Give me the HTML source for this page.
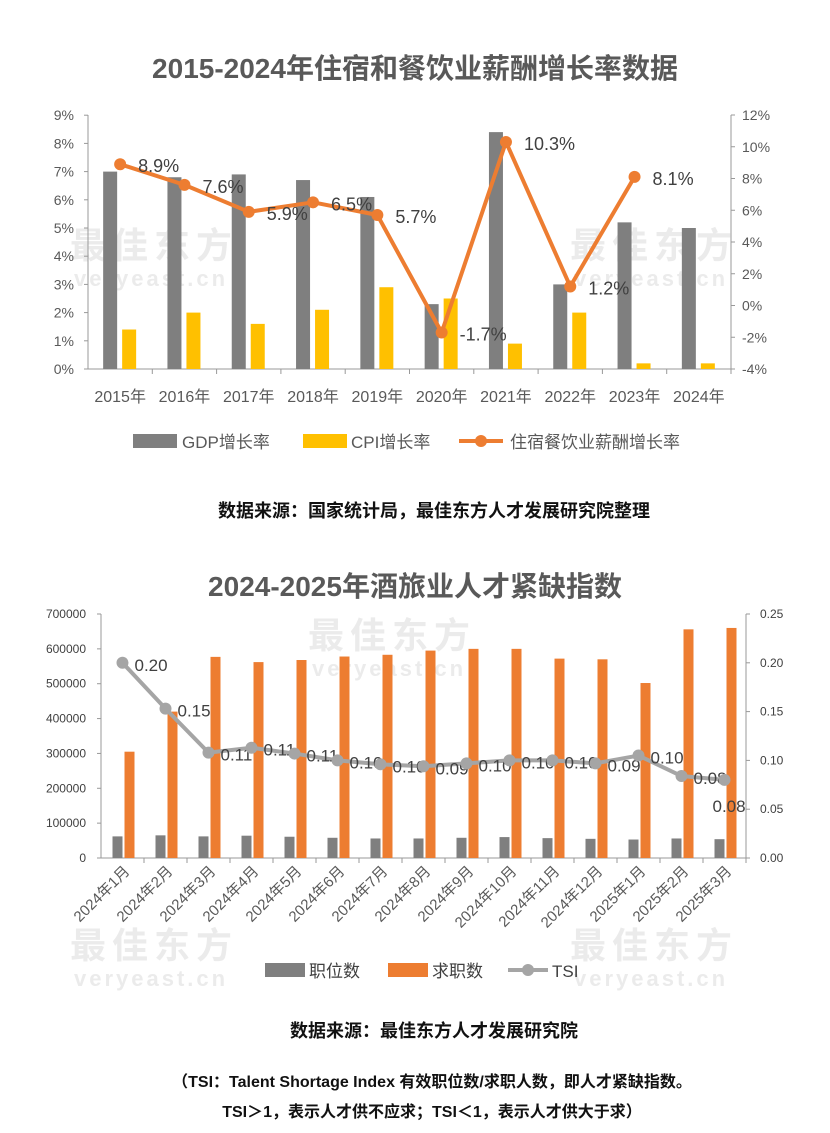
<!DOCTYPE html>
<html><head><meta charset="utf-8">
<style>
body{margin:0;background:#fff;width:830px;height:1133px;overflow:hidden;font-family:"Liberation Sans","Noto Sans CJK SC",sans-serif;}
svg{position:absolute;left:0;top:0}
</style></head>
<body>
<svg id="s" width="830" height="1133" xmlns="http://www.w3.org/2000/svg">
<text x="415" y="78" text-anchor="middle" font-size="28" font-weight="bold" fill="#595959" font-family="Liberation Sans,Noto Sans CJK SC,sans-serif">2015-2024年住宿和餐饮业薪酬增长率数据</text>
<text x="434" y="517" text-anchor="middle" font-size="18" font-weight="bold" fill="#111" font-family="Liberation Sans,Noto Sans CJK SC,sans-serif">数据来源：国家统计局，最佳东方人才发展研究院整理</text>
<text x="415" y="596" text-anchor="middle" font-size="28" font-weight="bold" fill="#595959" font-family="Liberation Sans,Noto Sans CJK SC,sans-serif">2024-2025年酒旅业人才紧缺指数</text>
<text x="434" y="1037" text-anchor="middle" font-size="18" font-weight="bold" fill="#111" font-family="Liberation Sans,Noto Sans CJK SC,sans-serif">数据来源：最佳东方人才发展研究院</text>
<text x="432" y="1087" text-anchor="middle" font-size="16" font-weight="bold" fill="#111" font-family="Liberation Sans,Noto Sans CJK SC,sans-serif">（TSI：Talent Shortage Index 有效职位数/求职人数，即人才紧缺指数。</text>
<text x="432" y="1117" text-anchor="middle" font-size="16" font-weight="bold" fill="#111" font-family="Liberation Sans,Noto Sans CJK SC,sans-serif">TSI＞1，表示人才供不应求；TSI＜1，表示人才供大于求）</text>
</svg>
<script>
const years=["2015年","2016年","2017年","2018年","2019年","2020年","2021年","2022年","2023年","2024年"];
const gdp=[7.0,6.8,6.9,6.7,6.1,2.3,8.4,3.0,5.2,5.0];
const cpi=[1.4,2.0,1.6,2.1,2.9,2.5,0.9,2.0,0.2,0.2];
const wage=[8.9,7.6,5.9,6.5,5.7,-1.7,10.3,1.2,8.1];
const leftTicks=["0%","1%","2%","3%","4%","5%","6%","7%","8%","9%"];
const rightTicks=["-4%","-2%","0%","2%","4%","6%","8%","10%","12%"];
const months=["2024年1月","2024年2月","2024年3月","2024年4月","2024年5月","2024年6月","2024年7月","2024年8月","2024年9月","2024年10月","2024年11月","2024年12月","2025年1月","2025年2月","2025年3月"];
const jobs=[62000,65000,62000,64000,61000,58000,56000,56000,58000,60000,57000,55000,53000,56000,54000];
const seekers=[305000,420000,577000,562000,568000,578000,583000,595000,600000,600000,572000,570000,502000,656000,660000];
const tsi=[0.20,0.153,0.108,0.113,0.107,0.100,0.096,0.094,0.097,0.100,0.100,0.097,0.105,0.084,0.080];
const tsiLabels=["0.20","0.15","0.11","0.11","0.11","0.10","0.10","0.09","0.10","0.10","0.10","0.09","0.10","0.08","0.08"];
const bLeftTicks=[0,100000,200000,300000,400000,500000,600000,700000];
const bRightTicks=["0.00","0.05","0.10","0.15","0.20","0.25"];

const s=document.getElementById('s');const NS='http://www.w3.org/2000/svg';
const F='Liberation Sans,Noto Sans CJK SC,sans-serif';
function mk(t,a,txt){const e=document.createElementNS(NS,t);for(const k in a)e.setAttribute(k,a[k]);if(txt!=null)e.textContent=txt;s.appendChild(e);return e;}

function wm(x,y){
 const t1=mk('text',{x:x,y:y,'font-size':36,'font-weight':'bold',fill:'#999','fill-opacity':0.2,'font-family':F,'letter-spacing':6},'最佳东方');
 const t2=mk('text',{x:x+4,y:y+28,'font-size':22,'font-weight':'bold',fill:'#999','fill-opacity':0.2,'font-family':F,'letter-spacing':3},'veryeast.cn');}
wm(70,258);wm(570,258);wm(308,648);wm(70,958);wm(570,958);

// ---- top chart
const tx0=88,tstep=64.3,ty0=369,tpx=28.2;
const ly=v=>ty0-v*tpx; const ry=v=>369-(v+4)*254/16; const tcx=i=>tx0+tstep*(i+0.5);
mk('line',{x1:tx0,y1:115,x2:tx0,y2:369,stroke:'#999'});
mk('line',{x1:731,y1:115,x2:731,y2:369,stroke:'#999'});
mk('line',{x1:tx0,y1:369,x2:731,y2:369,stroke:'#999'});
leftTicks.forEach((t,i)=>{mk('line',{x1:tx0-4,x2:tx0,y1:ly(i),y2:ly(i),stroke:'#999'});const e=mk('text',{x:tx0-14,y:ly(i)+5,'text-anchor':'end','font-size':14,fill:'#595959','font-family':F},t);});
rightTicks.forEach((t,i)=>{const v=-4+2*i;mk('line',{x1:731,x2:735,y1:ry(v),y2:ry(v),stroke:'#999'});const e=mk('text',{x:742,y:ry(v)+5,'font-size':14,fill:'#595959','font-family':F},t);});
years.forEach((y,i)=>{mk('line',{x1:tx0+tstep*(i+1),x2:tx0+tstep*(i+1),y1:369,y2:374,stroke:'#999'});
 const e=mk('text',{x:tcx(i),y:402,'text-anchor':'middle','font-size':16,fill:'#595959','font-family':F},y);
 const b=mk('rect',{x:tcx(i)-17,y:ly(gdp[i]),width:14,height:gdp[i]*tpx,fill:'#7f7f7f'});
 const c=mk('rect',{x:tcx(i)+2,y:ly(cpi[i]),width:14,height:cpi[i]*tpx,fill:'#ffc000'});});
const wl=mk('polyline',{points:wage.map((v,i)=>tcx(i)+','+ry(v)).join(' '),fill:'none',stroke:'#ed7d31','stroke-width':4,'stroke-linejoin':'round'});
wage.forEach((v,i)=>{const p=mk('circle',{cx:tcx(i),cy:ry(v),r:6,fill:'#ed7d31'});
 const t=mk('text',{x:tcx(i)+18,y:ry(v)+8,'font-size':18,fill:'#404040','font-family':F},v.toFixed(1)+'%');});
let r=mk('rect',{x:133,y:434,width:44,height:14,fill:'#7f7f7f'});
let t=mk('text',{x:182,y:448,'font-size':17,fill:'#595959','font-family':F},'GDP增长率');
r=mk('rect',{x:303,y:434,width:44,height:14,fill:'#ffc000'});
t=mk('text',{x:351,y:448,'font-size':17,fill:'#595959','font-family':F},'CPI增长率');
mk('line',{x1:459,x2:503,y1:441,y2:441,stroke:'#ed7d31','stroke-width':4});mk('circle',{cx:481,cy:441,r:6,fill:'#ed7d31'});
t=mk('text',{x:510,y:448,'font-size':17,fill:'#595959','font-family':F},'住宿餐饮业薪酬增长率');

// ---- bottom chart
const bx0=101,bstep=43,by0=858,bh=244;
const bly=v=>by0-v/700000*bh; const bry=v=>by0-v/0.25*bh; const bcx=i=>bx0+bstep*(i+0.5);
mk('line',{x1:bx0,y1:614,x2:bx0,y2:858,stroke:'#999'});
mk('line',{x1:746,y1:614,x2:746,y2:858,stroke:'#999'});
mk('line',{x1:bx0,y1:858,x2:746,y2:858,stroke:'#999'});
bLeftTicks.forEach(v=>{mk('line',{x1:bx0-4,x2:bx0,y1:bly(v),y2:bly(v),stroke:'#999'});const e=mk('text',{x:bx0-15,y:bly(v)+4,'text-anchor':'end','font-size':12,fill:'#404040','font-family':F},String(v));});
bRightTicks.forEach(tk=>{const v=parseFloat(tk);mk('line',{x1:746,x2:750,y1:bry(v),y2:bry(v),stroke:'#999'});const e=mk('text',{x:760,y:bry(v)+4,'font-size':12,fill:'#404040','font-family':F},tk);});
months.forEach((m,i)=>{mk('line',{x1:bx0+bstep*(i+1),x2:bx0+bstep*(i+1),y1:858,y2:863,stroke:'#999'});
 const x=bcx(i)+8,y=872;const e=mk('text',{x:x,y:y,'text-anchor':'end','font-size':15,fill:'#595959','font-family':F,transform:'rotate(-45 '+x+' '+y+')'},m);
 const b=mk('rect',{x:bcx(i)-10,y:bly(jobs[i]),width:10,height:jobs[i]/700000*bh,fill:'#7f7f7f'});
 const c=mk('rect',{x:bcx(i)+2,y:bly(seekers[i]),width:10,height:seekers[i]/700000*bh,fill:'#ed7d31'});});
const tl=mk('polyline',{points:tsi.map((v,i)=>bcx(i)+','+bry(v)).join(' '),fill:'none',stroke:'#a5a5a5','stroke-width':4,'stroke-linejoin':'round'});
tsi.forEach((v,i)=>{const p=mk('circle',{cx:bcx(i),cy:bry(v),r:6,fill:'#a5a5a5'});
 const last=i===tsi.length-1;const e=mk('text',{x:bcx(i)+(last?-12:12),y:bry(v)+(last?32:8),'font-size':17,fill:'#404040','font-family':F},tsiLabels[i]);});
r=mk('rect',{x:265,y:963,width:40,height:14,fill:'#7f7f7f'});
t=mk('text',{x:309,y:977,'font-size':17,fill:'#404040','font-family':F},'职位数');
r=mk('rect',{x:388,y:963,width:40,height:14,fill:'#ed7d31'});
t=mk('text',{x:432,y:977,'font-size':17,fill:'#404040','font-family':F},'求职数');
mk('line',{x1:508,x2:548,y1:970,y2:970,stroke:'#a5a5a5','stroke-width':4});mk('circle',{cx:528,cy:970,r:6,fill:'#a5a5a5'});
t=mk('text',{x:552,y:977,'font-size':17,fill:'#404040','font-family':F},'TSI');
</script>
</body></html>
